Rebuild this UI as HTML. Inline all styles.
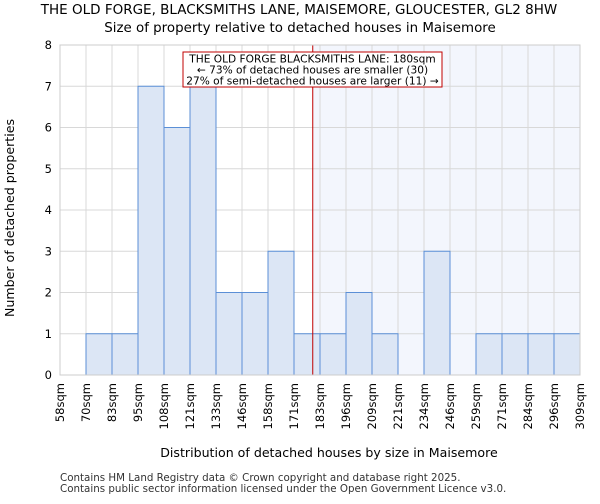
<!DOCTYPE html>
<html><head><meta charset="utf-8"><style>
body{margin:0;background:#fff;font-family:"DejaVu Sans","Liberation Sans",sans-serif;}
svg text{font-family:"DejaVu Sans","Liberation Sans",sans-serif;}
</style></head><body>
<svg id="c" width="600" height="500">
<text x="299" y="14" font-size="13.5" text-anchor="middle">THE OLD FORGE, BLACKSMITHS LANE, MAISEMORE, GLOUCESTER, GL2 8HW</text>
<text x="300" y="32" font-size="13.4" text-anchor="middle">Size of property relative to detached houses in Maisemore</text>
<text x="329" y="457" font-size="12.6" text-anchor="middle">Distribution of detached houses by size in Maisemore</text>
<text transform="translate(14,218) rotate(-90)" font-size="12.6" text-anchor="middle">Number of detached properties</text>
<text x="60" y="481" font-size="10.3" fill="#333">Contains HM Land Registry data © Crown copyright and database right 2025.</text>
<text x="60" y="492" font-size="10.3" fill="#333">Contains public sector information licensed under the Open Government Licence v3.0.</text>
</svg>
<script>
const edges=[58,70,83,95,108,121,133,146,158,171,183,196,209,221,234,246,259,271,284,296,309];
const counts=[0,1,1,7,6,7,2,2,3,1,1,2,1,0,3,0,1,1,1,1];
const yTicks=[0,1,2,3,4,5,6,7,8];
const marker=180;
const L=60,R=580,T=45,B=375,xmin=58,xmax=309,ymax=8;
const NS="http://www.w3.org/2000/svg",svg=document.getElementById('c');
const xi=i=>L+i*(R-L)/(edges.length-1);
const xv=v=>L+(v-xmin)/(xmax-xmin)*(R-L);
const y=v=>B-v/ymax*(B-T);
function mk(t,a,p){const e=document.createElementNS(NS,t);for(const k in a)e.setAttribute(k,a[k]);(p||svg).appendChild(e);return e;}
const sh=mk('rect',{x:xv(marker),y:T,width:R-xv(marker),height:B-T,fill:'#f3f6fd'});


yTicks.forEach(t=>{const g=mk('line',{x1:L,x2:R,y1:y(t),y2:y(t),stroke:'#d8d8d8'});


const tl=mk('text',{x:L-8,y:y(t)+4,'font-size':11.5,'text-anchor':'end'});tl.textContent=t;

});
edges.forEach((e,i)=>{const g=mk('line',{x1:xi(i),x2:xi(i),y1:T,y2:B,stroke:'#d8d8d8'});


const tl=mk('text',{transform:`translate(${xi(i)+4},${B+8}) rotate(-90)`,'font-size':11.5,'text-anchor':'end'});tl.textContent=e+'sqm';

});
counts.forEach((c,i)=>{if(!c)return;const b=mk('rect',{x:xi(i),y:y(c),width:xi(i+1)-xi(i),height:B-y(c),fill:'#dce6f5',stroke:'#5b8fd6','stroke-width':1});

});
const ln=mk('line',{x1:xv(marker),x2:xv(marker),y1:T,y2:B,stroke:'#c00000','stroke-width':1});


const ax=mk('rect',{x:L,y:T,width:R-L,height:B-T,fill:'none',stroke:'#ccc'});


const bx=mk('rect',{x:183,y:52,width:259,height:35,fill:'#fff',stroke:'#c00000'});


["THE OLD FORGE BLACKSMITHS LANE: 180sqm","← 73% of detached houses are smaller (30)","27% of semi-detached houses are larger (11) →"].forEach((s,i)=>{const t=mk('text',{x:312.5,y:62.5+i*11,'font-size':10.6,'text-anchor':'middle'});t.textContent=s;

});
</script>
</body></html>
